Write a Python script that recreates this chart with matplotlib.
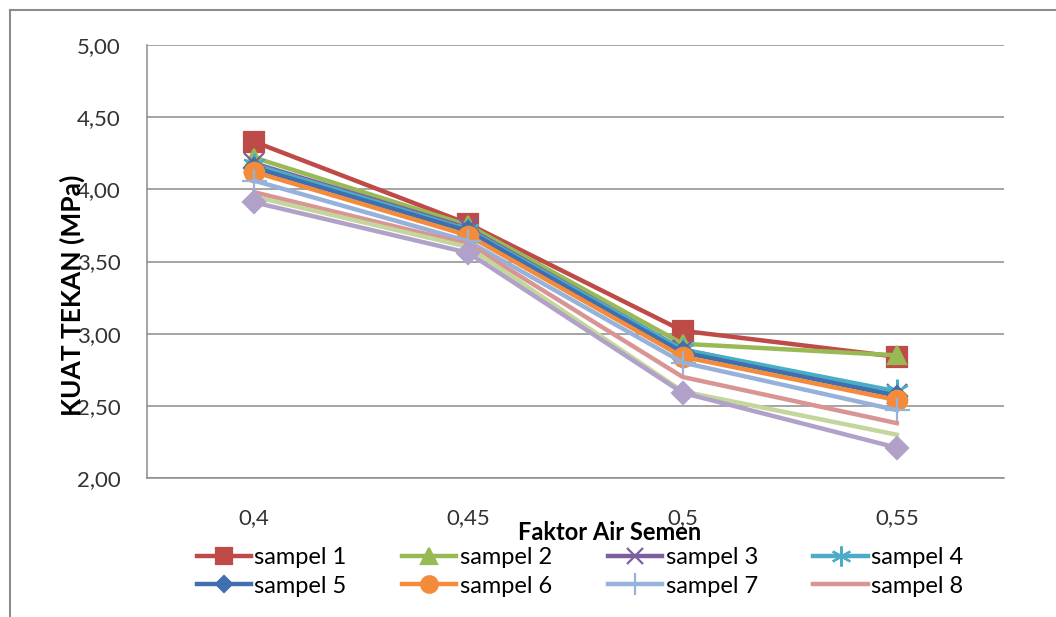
import matplotlib
matplotlib.use("Agg")
import matplotlib.pyplot as plt
from matplotlib.lines import Line2D

plt.rcParams['font.family'] = ['Lato', 'DejaVu Sans']

# data
categories = ['0,4', '0,45', '0,5', '0,55']
sampel_1 = [4.33, 3.76, 3.02, 2.84]
sampel_2 = [4.22, 3.75, 2.93, 2.85]
sampel_3 = [4.18, 3.73, 2.89, 2.58]
sampel_4 = [4.17, 3.72, 2.89, 2.60]
sampel_5 = [4.15, 3.71, 2.87, 2.57]
sampel_6 = [4.12, 3.68, 2.84, 2.54]
sampel_7 = [4.06, 3.64, 2.80, 2.47]
sampel_8 = [3.98, 3.62, 2.70, 2.38]
sampel_9 = [3.95, 3.60, 2.60, 2.30]
sampel_10 = [3.91, 3.56, 2.59, 2.21]
series_names = ['sampel 1', 'sampel 2', 'sampel 3', 'sampel 4', 'sampel 5',
                'sampel 6', 'sampel 7', 'sampel 8', 'sampel 9', 'sampel 10']
series_values = [sampel_1, sampel_2, sampel_3, sampel_4, sampel_5,
                 sampel_6, sampel_7, sampel_8, sampel_9, sampel_10]

colors = ['#BE4B48', '#98B954', '#7D5FA0', '#4AACC5', '#3F6FAE',
          '#F38B3A', '#97B2DA', '#D89593', '#C3D69B', '#B1A1C9']
markers = ['s', '^', 'x', (6, 2, 0), 'D', 'o', '+', None, None, 'D']
msizes = [14, 13, 14, 17, 10, 14, 18, 0, 0, 11]

fig = plt.figure(figsize=(10.56, 6.17), dpi=100)
ax = fig.add_axes([147 / 1056, 1 - 478 / 617, 857 / 1056, 433 / 617])

x = list(range(len(categories)))
handles = []
for name, vals, c, m, ms in zip(series_names, series_values, colors, markers, msizes):
    l, = ax.plot(x, vals, color=c, lw=3.2, marker=m, markersize=ms,
                 markerfacecolor=c, markeredgecolor=c, markeredgewidth=1.6,
                 label=name, solid_joinstyle='miter')
    handles.append(l)

ax.set_xlim(-0.5, 3.5)
ax.set_ylim(2.0, 5.0)
ax.set_xticks(x)
ax.set_xticklabels(categories)
yt = [2.0, 2.5, 3.0, 3.5, 4.0, 4.5, 5.0]
ax.set_yticks(yt)
ax.set_yticklabels([f'{v:.2f}'.replace('.', ',') for v in yt])
ax.tick_params(length=0, labelsize=16, colors='#333333')
ax.tick_params(axis='y', pad=19)
ax.tick_params(axis='x', pad=22)
ax.grid(axis='y', color='#8c8c8c', lw=1.1)
ax.set_axisbelow(True)
for s in ['top', 'right']:
    ax.spines[s].set_visible(False)
for s in ['left', 'bottom']:
    ax.spines[s].set_color('#8c8c8c')
    ax.spines[s].set_linewidth(1.1)

fig.text(72 / 1056, 1 - 295 / 617, 'KUAT TEKAN (MPa)', rotation=90,
         ha='center', va='center', fontsize=19, fontweight='bold')
fig.text(610 / 1056, 1 - 533 / 617, 'Faktor Air Semen', ha='center',
         va='center', fontsize=17, fontweight='bold')

# legend fills column by column, so reorder to read row by row
order = [0, 4, 1, 5, 2, 6, 3, 7]
fig.legend([handles[i] for i in order], [series_names[i] for i in order],
           ncol=4, loc='center', bbox_to_anchor=(580 / 1056, 1 - 572 / 617),
           frameon=False, fontsize=17, handlelength=2.3, columnspacing=2.35,
           labelspacing=0.3, handletextpad=0.15, markerscale=0.85,
           borderpad=0.1)

# outer chart border
fig.add_artist(Line2D([10 / 1056, 10 / 1056], [0, 1 - 10 / 617],
                      transform=fig.transFigure, color='#8c8c8c', lw=1.5))
fig.add_artist(Line2D([10 / 1056, 1], [1 - 10 / 617, 1 - 10 / 617],
                      transform=fig.transFigure, color='#8c8c8c', lw=1.5))

fig.savefig('out.png', dpi=100)
